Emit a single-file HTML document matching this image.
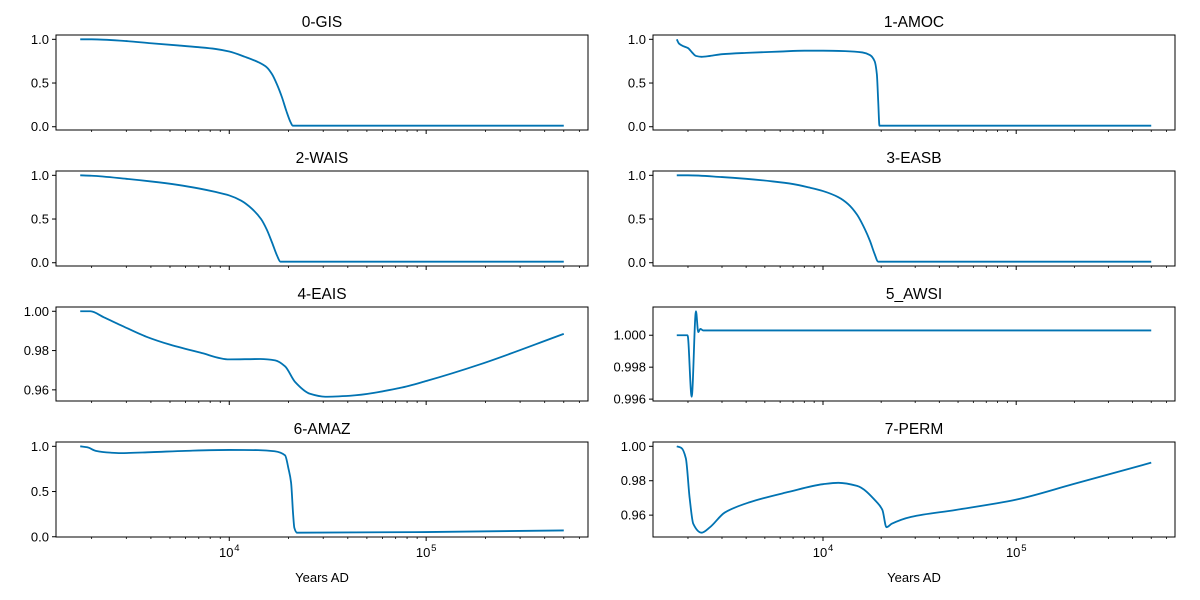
<!DOCTYPE html>
<html><head><meta charset="utf-8"><style>
html,body{margin:0;padding:0;background:#fff;}
svg{display:block;font-family:"Liberation Sans","DejaVu Sans",sans-serif;}
</style></head><body>
<svg id="chart" width="1200" height="600" viewBox="0 0 1200 600" xmlns="http://www.w3.org/2000/svg"></svg>
<script>
const titles = ["0-GIS","1-AMOC","2-WAIS","3-EASB","4-EAIS","5_AWSI","6-AMAZ","7-PERM"];
const gisData = [[1750,1],[2000,1],[3000,0.98],[4000,0.955],[5500,0.93],[7000,0.91],[8500,0.89],[10000,0.86],[12000,0.8],[14000,0.74],[15500,0.68],[16500,0.6],[17500,0.48],[18500,0.34],[19500,0.18],[20500,0.05],[21000,0.012],[500000,0.012]];
const amocData = [[1750,1],[1800,0.95],[1900,0.92],[2000,0.9],[2100,0.85],[2200,0.81],[2350,0.8],[2600,0.81],[3000,0.83],[4000,0.845],[6000,0.86],[8000,0.87],[10000,0.87],[13000,0.865],[16000,0.85],[17500,0.82],[18500,0.75],[19000,0.6],[19300,0.3],[19600,0.012],[500000,0.012]];
const waisData = [[1750,1],[2000,0.995],[3000,0.96],[4000,0.93],[5500,0.89],[7000,0.85],[8500,0.81],[10000,0.77],[11500,0.71],[13000,0.62],[14500,0.5],[15500,0.38],[16500,0.23],[17500,0.08],[18200,0.012],[500000,0.012]];
const easbData = [[1750,1],[2000,1],[3000,0.98],[4000,0.96],[5500,0.93],[7000,0.9],[8500,0.86],[10000,0.82],[12000,0.75],[13500,0.67],[15000,0.55],[16500,0.38],[17500,0.25],[18500,0.1],[19300,0.012],[500000,0.012]];
const eaisData = [[1750,1],[1970,1],[2300,0.997],[2800,0.993],[3800,0.987],[5000,0.983],[7100,0.979],[10000,0.9755],[14400,0.9757],[17100,0.975],[19200,0.972],[21600,0.964],[25700,0.958],[30700,0.9565],[41100,0.957],[73700,0.961],[100000,0.9645],[188000,0.973],[500000,0.9885]];
const awsiData = [[1750,1],[1990,1],[2090,0.99615],[2200,1.0015],[2260,1.0002],[2320,1.0004],[2400,1.0003],[500000,1.0003]];
const amazData = [[1750,1],[1900,0.99],[2100,0.95],[2490,0.93],[2800,0.925],[4000,0.935],[6000,0.95],[10000,0.96],[14000,0.958],[17000,0.945],[19200,0.9],[20000,0.75],[20600,0.6],[21100,0.25],[21400,0.1],[22100,0.045],[100000,0.052],[500000,0.07]];
const permData = [[1750,1],[1850,0.999],[1950,0.993],[2040,0.97],[2130,0.955],[2350,0.9498],[2600,0.953],[3100,0.9615],[4170,0.9675],[6640,0.9735],[10000,0.978],[12000,0.9788],[15000,0.977],[19000,0.9675],[20300,0.963],[21300,0.953],[22700,0.955],[28600,0.959],[48500,0.963],[100000,0.969],[197000,0.978],[500000,0.9905]];
const series = [gisData,amocData,waisData,easbData,eaisData,awsiData,amazData,permData];
const yTicks = [[0,0.5,1],[0,0.5,1],[0,0.5,1],[0,0.5,1],[0.96,0.98,1.0],[0.996,0.998,1.0],[0,0.5,1],[0.96,0.98,1.0]];
const yTickLabels = [["0.0","0.5","1.0"],["0.0","0.5","1.0"],["0.0","0.5","1.0"],["0.0","0.5","1.0"],["0.96","0.98","1.00"],["0.996","0.998","1.000"],["0.0","0.5","1.0"],["0.96","0.98","1.00"]];
const xMajor = [10000,100000];
const xMajorExp = ["4","5"];

const NS="http://www.w3.org/2000/svg";
const svg=document.getElementById('chart');
function mk(tag,attrs,parent){const e=document.createElementNS(NS,tag);for(const k in attrs)e.setAttribute(k,attrs[k]);(parent||svg).appendChild(e);return e;}
function monoPath(P){
  const n=P.length;if(n<3)return P.map((p,j)=>(j?'L':'M')+p[0]+','+p[1]).join('');
  const dx=[],s=[];for(let i=0;i<n-1;i++){dx.push(P[i+1][0]-P[i][0]);s.push((P[i+1][1]-P[i][1])/dx[i]);}
  const m=[s[0]];for(let i=1;i<n-1;i++){m.push(s[i-1]*s[i]<=0?0:3*(dx[i-1]+dx[i])/((2*dx[i]+dx[i-1])/s[i-1]+(dx[i]+2*dx[i-1])/s[i]));}
  m.push(s[n-2]);
  let d='M'+P[0][0].toFixed(2)+','+P[0][1].toFixed(2);
  for(let i=0;i<n-1;i++){const h=dx[i]/3;
    d+='C'+(P[i][0]+h).toFixed(2)+','+(P[i][1]+m[i]*h).toFixed(2)+' '+(P[i+1][0]-h).toFixed(2)+','+(P[i+1][1]-m[i+1]*h).toFixed(2)+' '+P[i+1][0].toFixed(2)+','+P[i+1][1].toFixed(2);}
  return d;
}
const colX=[[56,588],[653,1175]];
const rowY=[[35,130],[171,266],[307,401],[442,537]];
const LX0=3.12, LX1=5.822;
for(let i=0;i<8;i++){
  const col=i%2,row=Math.floor(i/2);
  const [x0,x1]=colX[col],[y0,y1]=rowY[row];
  const d=series[i];
  const vals=d.map(p=>p[1]);
  const mn=Math.min(...vals),mx=Math.max(...vals),m=(mx-mn)*0.05;
  const ymin=mn-m,ymax=mx+m;
  const sx=t=>x0+(Math.log10(t)-LX0)/(LX1-LX0)*(x1-x0);
  const sy=v=>y1-(v-ymin)/(ymax-ymin)*(y1-y0);
  const g=mk('g',{});
  
  
  const t=mk('text',{x:(x0+x1)/2,y:y0-8,'text-anchor':'middle','font-size':'15.5',fill:'#000'},g);
  t.textContent=titles[i];
  
  
  yTicks[i].forEach((v,k)=>{
    const y=sy(v);
    mk('line',{x1:x0-4,x2:x0,y1:y,y2:y,stroke:'#000','stroke-width':1},g);
    const lb=mk('text',{x:x0-7,y:y+4.5,'text-anchor':'end','font-size':'13',fill:'#000'},g);
    lb.textContent=yTickLabels[i][k];
    
    
  });
  for(let e=3;e<=5;e++)for(let k=2;k<=9;k++){
    const tv=k*Math.pow(10,e);const lv=Math.log10(tv);
    if(lv<LX0||lv>LX1)continue;
    const x=sx(tv);
    mk('line',{x1:x,x2:x,y1:y1,y2:y1+2,stroke:'#000','stroke-width':0.8},g);
  }
  xMajor.forEach((tv,k)=>{
    const x=sx(tv);
    mk('line',{x1:x,x2:x,y1:y1,y2:y1+4,stroke:'#000','stroke-width':1},g);
    if(row===3){
      const lb=mk('text',{x:x-3,y:y1+20,'text-anchor':'middle','font-size':'13',fill:'#000'},g);
      lb.textContent='10';
      
      
      const ex=mk('text',{x:x+5,y:y1+14,'text-anchor':'start','font-size':'9.5',fill:'#000'},g);
      ex.textContent=xMajorExp[k];
    }
  });
  if(row===3){
    const xl=mk('text',{x:(x0+x1)/2,y:582,'text-anchor':'middle','font-size':'13',fill:'#000'},g);
    xl.textContent='Years AD';
    
    
  }
  const pts=d.map(p=>[sx(p[0]),sy(p[1])]);
  const path=mk('path',{d:monoPath(pts),fill:'none',stroke:'#0173b2','stroke-width':1.8,'stroke-linejoin':'round'},g);
  
  
  const fr=mk('rect',{x:x0,y:y0,width:x1-x0,height:y1-y0,fill:'none',stroke:'#000','stroke-width':1},g);
  
  
}
</script>
</body></html>
